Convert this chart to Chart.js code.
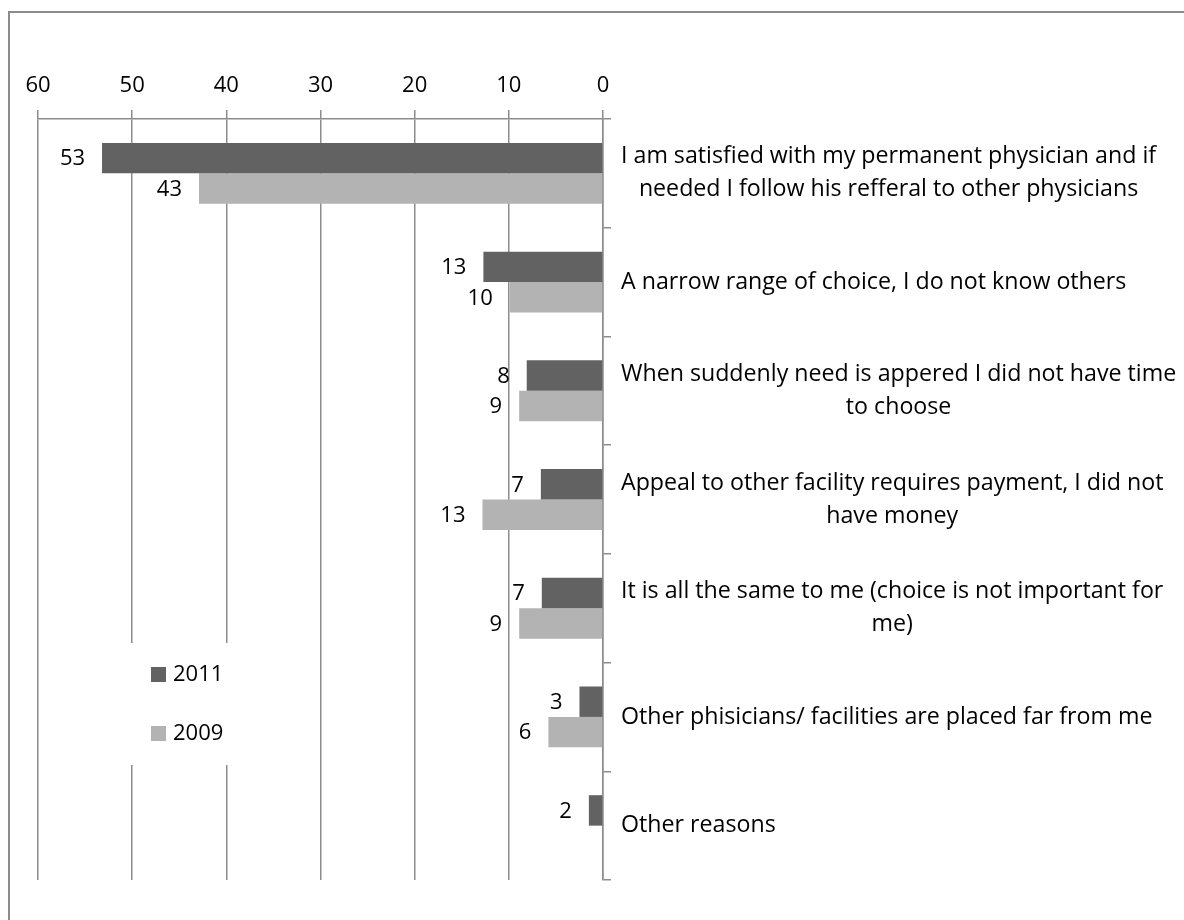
<!DOCTYPE html>
<html>
<head>
<meta charset="utf-8">
<script src="https://cdn.jsdelivr.net/npm/chart.js@4/dist/chart.umd.min.js"></script>
<style>
html, body { margin: 0; padding: 0; background: #fff; overflow: hidden; }
#frame { position: absolute; left: 8px; top: 11px; width: 1400px; height: 1100px; border: 2px solid #8c8c8c; box-sizing: border-box; }
#wrap { position: absolute; left: 0; top: 0; width: 1184px; height: 920px; }
</style>
</head>
<body>
<div id="frame"></div>
<div id="wrap"><canvas id="canvas"></canvas></div>
<script>
const categories = [
	['I am satisfied with my permanent physician and if', 'needed I follow his refferal to other physicians'],
	['A narrow range of choice, I do not know others'],
	['When suddenly need is appered I did not have time', 'to choose'],
	['Appeal to other facility requires payment, I did not', 'have money'],
	['It is all the same to me (choice is not important for', 'me)'],
	['Other phisicians/ facilities are placed far from me'],
	['Other reasons']
];
const seriesNames = ['2011', '2009'];
const values2011 = [53.2, 12.7, 8.1, 6.6, 6.5, 2.5, 1.5];
const values2009 = [42.9, 9.9, 8.9, 12.8, 8.9, 5.8, null];
const xTickValues = [0, 10, 20, 30, 40, 50, 60];

const colors = ['#626262', '#b3b3b3'];
const FONT = '"Open Sans", sans-serif';
const lineColor = '#8c8c8c';

const valueLabels = {
	id: 'valueLabels',
	afterDatasetsDraw(chart) {
		const { ctx } = chart;
		ctx.save();
		ctx.font = `22px ${FONT}`;
		ctx.fillStyle = '#000';
		ctx.textAlign = 'right';
		ctx.textBaseline = 'middle';
		chart.data.datasets.forEach((ds, i) => {
			chart.getDatasetMeta(i).data.forEach((bar, j) => {
				const v = ds.data[j];
				if (v == null) return;
				ctx.fillText(String(Math.round(v)), bar.x - 17, bar.y + 1);
			});
		});
		ctx.restore();
	}
};

// category labels: block left-aligned, lines centred inside the block
const categoryLabels = {
	id: 'categoryLabels',
	afterDraw(chart) {
		const { ctx } = chart;
		const y = chart.scales.y;
		ctx.save();
		ctx.font = `23.2px ${FONT}`;
		ctx.fillStyle = '#000';
		ctx.textAlign = 'center';
		ctx.textBaseline = 'middle';
		categories.forEach((lines, i) => {
			const w = Math.max(...lines.map(l => ctx.measureText(l).width));
			const cx = y.left + 18 + w / 2;
			const y0 = y.getPixelForTick(i) - (lines.length - 1) * 33 / 2;
			lines.forEach((l, k) => ctx.fillText(l, cx, y0 + k * 33));
		});
		ctx.restore();
	}
};

const boxLegend = {
	id: 'boxLegend',
	afterDraw(chart) {
		const { ctx } = chart;
		ctx.save();
		ctx.fillStyle = '#fff';
		ctx.fillRect(124, 643, 112, 122);
		ctx.font = `22px ${FONT}`;
		ctx.textBaseline = 'middle';
		ctx.textAlign = 'left';
		chart.data.datasets.forEach((ds, i) => {
			const top = 667 + i * 59;
			ctx.fillStyle = ds.backgroundColor;
			ctx.fillRect(151, top, 15, 15);
			ctx.fillStyle = '#000';
			ctx.fillText(ds.label, 173, top + 8);
		});
		ctx.restore();
	}
};

new Chart(document.getElementById('canvas').getContext('2d'), {
	type: 'bar',
	data: {
		labels: categories,
		datasets: [
			{ label: seriesNames[0], data: values2011, backgroundColor: colors[0] },
			{ label: seriesNames[1], data: values2009, backgroundColor: colors[1] }
		]
	},
	options: {
		indexAxis: 'y',
		responsive: true,
		maintainAspectRatio: false,
		animation: false,
		layout: { padding: { left: 38, top: 0, right: 0, bottom: 40 } },
		datasets: { bar: { barPercentage: 1, categoryPercentage: 0.56 } },
		plugins: { legend: { display: false }, tooltip: { enabled: false } },
		scales: {
			x: {
				position: 'top',
				reverse: true,
				min: 0,
				max: 60,
				afterBuildTicks: s => { s.ticks = xTickValues.map(v => ({ value: v })); },
				afterFit: s => { s.height = 119; },
				grid: { color: lineColor, lineWidth: 1.5, tickLength: 9 },
				border: { display: true, color: lineColor, width: 1.5 },
				ticks: { font: { family: FONT, size: 22 }, color: '#000', padding: 11, maxRotation: 0 }
			},
			y: {
				position: 'right',
				afterFit: s => { s.width = 581; },
				grid: { drawOnChartArea: false, tickLength: 8, color: lineColor, lineWidth: 1.5, offset: true },
				border: { display: true, color: lineColor, width: 1.5 },
				ticks: { display: false }
			}
		}
	},
	plugins: [valueLabels, categoryLabels, boxLegend]
});
</script>
</body>
</html>
